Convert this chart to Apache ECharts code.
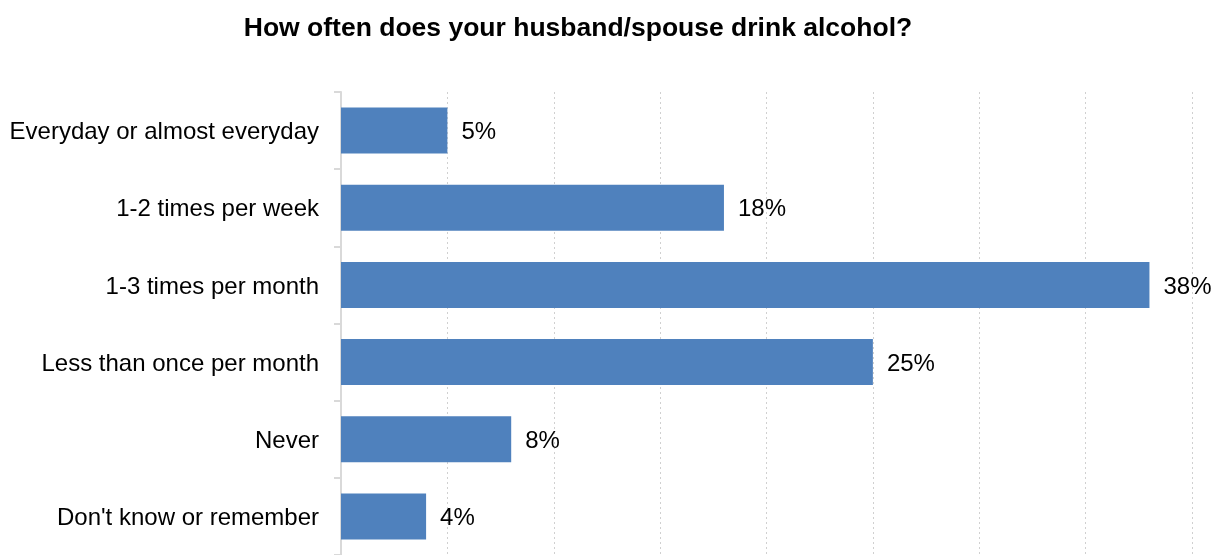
<!DOCTYPE html>
<html><head><meta charset="utf-8">
<script src="https://cdn.jsdelivr.net/npm/echarts@6/dist/echarts.min.js"></script>
<style>html,body{margin:0;padding:0;background:#fff}#c{width:1227px;height:555px}</style>
</head><body><div id="c"></div>
<script>
const titleText = "How often does your husband/spouse drink alcohol?";
const categories = ["Everyday or almost everyday","1-2 times per week","1-3 times per month","Less than once per month","Never","Don't know or remember"];
const values = [5, 18, 38, 25, 8, 4];

const chart = echarts.init(document.getElementById('c'));
chart.setOption({
  animation: false,
  backgroundColor: '#ffffff',
  title: {
    text: titleText, left: 573, top: 10, textAlign: 'center',
    textStyle: {fontFamily: 'Liberation Sans, Arial, sans-serif', fontSize: 26.5, fontWeight: 'bold', color: '#000'}
  },
  grid: {left: 341, right: 35, top: 92, bottom: -7, containLabel: false},
  xAxis: {
    type: 'value', min: 0, max: 40, interval: 5,
    axisLabel: {show: false}, axisLine: {show: false}, axisTick: {show: false},
    splitLine: {show: true, lineStyle: {color: '#d0d0d0', type: [2, 3], width: 1}}
  },
  yAxis: {
    type: 'category', data: categories, inverse: true,
    axisLine: {show: true, lineStyle: {color: '#d9d9d9', width: 2}},
    axisTick: {show: true, length: 7, lineStyle: {color: '#d9d9d9', width: 2}},
    axisLabel: {margin: 22, formatter: v => '{a|' + v + '}',
      rich: {a: {padding: [4, 0, 0, 0], fontFamily: 'Liberation Sans, Arial, sans-serif', fontSize: 24, color: '#000'}},
      fontFamily: 'Liberation Sans, Arial, sans-serif', fontSize: 24, color: '#000'}
  },
  series: [{
    type: 'bar', data: values, barWidth: 46,
    itemStyle: {color: '#4F81BD'},
    label: {show: true, position: 'right', distance: 14, offset: [0, 2], formatter: '{c}%',
      fontFamily: 'Liberation Sans, Arial, sans-serif', fontSize: 24, color: '#000'}
  }]
});
</script></body></html>
